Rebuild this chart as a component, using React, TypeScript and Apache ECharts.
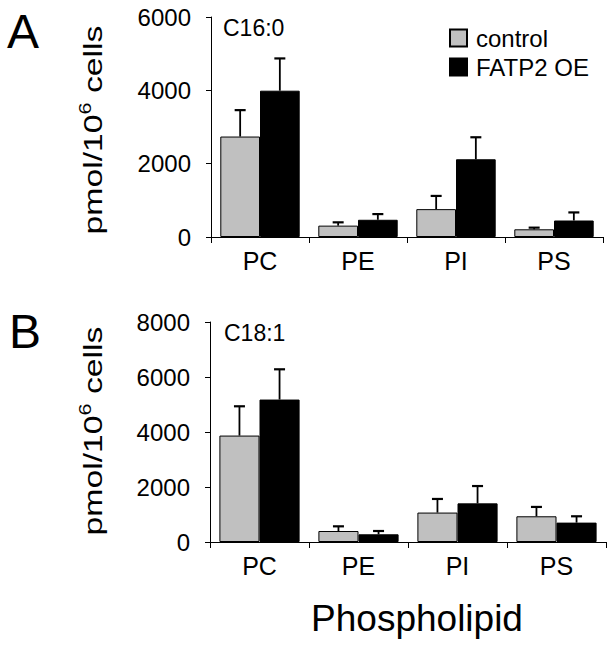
import React, { useEffect, useRef } from "react";
import * as echarts from "echarts";

const categories = ["PC", "PE", "PI", "PS"];
const seriesNames = ["control", "FATP2 OE"];

// Panel A: C16:0
const c16Control = [2740, 310, 760, 210];
const c16ControlErr = [720, 90, 360, 45];
const c16Fatp2 = [3990, 470, 2120, 450];
const c16Fatp2Err = [880, 155, 600, 220];

// Panel B: C18:1
const c18Control = [3870, 400, 1070, 935];
const c18ControlErr = [1065, 170, 495, 340];
const c18Fatp2 = [5180, 280, 1405, 705];
const c18Fatp2Err = [1100, 120, 630, 230];

const yMaxA = 6000;
const yMaxB = 8000;
const yInterval = 2000;

const FONT = "'Liberation Sans', Arial, Helvetica, sans-serif";
const CAT_GAP = 0.19;

function errSeries(name: string, xi: number, vals: number[], errs: number[], sign: number) {
  return {
    type: "custom",
    name,
    xAxisIndex: xi,
    yAxisIndex: xi,
    z: 10,
    silent: true,
    data: vals.map((v, i) => [i, v, errs[i]]),
    encode: { x: 0, y: 1 },
    renderItem: (params: any, api: any) => {
      const i = api.value(0);
      const v = api.value(1);
      const e = api.value(2);
      const band = api.size([1, 0])[0];
      const off = (sign * band * (1 - CAT_GAP)) / 4;
      const base = api.coord([i, v]);
      const top = api.coord([i, v + e]);
      const x = base[0] + off;
      return {
        type: "group",
        children: [
          {
            type: "line",
            shape: { x1: x, y1: base[1], x2: x, y2: top[1] },
            style: { stroke: "#000", lineWidth: 1.8 },
          },
          {
            type: "line",
            shape: { x1: x - 5.5, y1: top[1], x2: x + 5.5, y2: top[1] },
            style: { stroke: "#000", lineWidth: 2.2 },
          },
        ],
      };
    },
  };
}

function barSeries(name: string, xi: number, vals: number[], color: string) {
  return {
    type: "bar",
    name,
    xAxisIndex: xi,
    yAxisIndex: xi,
    data: vals,
    barGap: "0%",
    barCategoryGap: "19%",
    itemStyle: { color, borderColor: "#000", borderWidth: 1 },
  };
}

function xAxis(gi: number) {
  return {
    type: "category",
    gridIndex: gi,
    data: categories,
    axisLine: { lineStyle: { color: "#000", width: 1 } },
    axisTick: { show: true, length: 6, interval: 0, alignWithLabel: false, lineStyle: { color: "#000" } },
    axisLabel: { color: "#000", fontSize: 25, fontFamily: FONT, margin: 11, interval: 0 },
  };
}

function yAxis(gi: number, max: number) {
  return {
    type: "value",
    gridIndex: gi,
    min: 0,
    max,
    interval: yInterval,
    splitLine: { show: false },
    axisLine: { show: true, lineStyle: { color: "#000", width: 1 } },
    axisTick: { show: true, length: 5, lineStyle: { color: "#000" } },
    axisLabel: {
      color: "#000",
      fontSize: 24,
      fontFamily: FONT,
      margin: 20,
      formatter: (v: number) => String(v),
    },
  };
}

function yLabel(cx: number, cy: number) {
  return {
    type: "text",
    x: cx,
    y: cy,
    rotation: Math.PI / 2,
    scaleX: 1.35,
    style: {
      text: "{a|pmol/10}{b|6}{a| cells}",
      align: "center",
      verticalAlign: "middle",
      fill: "#000",
      font: `25px ${FONT}`,
      rich: {
        a: { fontSize: 25, fontFamily: FONT, fill: "#000", lineHeight: 28, verticalAlign: "bottom" },
        b: { fontSize: 16, fontFamily: FONT, fill: "#000", lineHeight: 28, verticalAlign: "top" },
      },
    },
  };
}

function plainText(text: string, x: number, y: number, size: number, align = "left") {
  return {
    type: "text",
    x,
    y,
    style: { text, font: `${size}px ${FONT}`, fill: "#000", align, verticalAlign: "middle" },
  };
}

export default function App() {
  const ref = useRef<HTMLDivElement>(null);
  useEffect(() => {
    if (!ref.current) return;
    const chart = echarts.init(ref.current, undefined, { renderer: "svg" });
    chart.setOption({
      animation: false,
      backgroundColor: "#fff",
      legend: {
        data: seriesNames,
        orient: "vertical",
        left: 449,
        top: 26,
        padding: 0,
        itemWidth: 17,
        itemHeight: 17,
        itemGap: 5,
        icon: "rect",
        textStyle: { fontSize: 24, fontFamily: FONT, color: "#000", lineHeight: 24, padding: [0, 0, 0, 4] },
      },
      grid: [
        { left: 211, top: 17, width: 392, height: 220 },
        { left: 210, top: 322, width: 396, height: 220 },
      ],
      xAxis: [xAxis(0), xAxis(1)],
      yAxis: [yAxis(0, yMaxA), yAxis(1, yMaxB)],
      series: [
        barSeries(seriesNames[0], 0, c16Control, "#c0c0c0"),
        barSeries(seriesNames[1], 0, c16Fatp2, "#000"),
        barSeries(seriesNames[0], 1, c18Control, "#c0c0c0"),
        barSeries(seriesNames[1], 1, c18Fatp2, "#000"),
        errSeries("errA0", 0, c16Control, c16ControlErr, -1),
        errSeries("errA1", 0, c16Fatp2, c16Fatp2Err, 1),
        errSeries("errB0", 1, c18Control, c18ControlErr, -1),
        errSeries("errB1", 1, c18Fatp2, c18Fatp2Err, 1),
      ],
      graphic: [
        plainText("A", 7, 31, 48),
        plainText("B", 9, 331, 48),
        plainText("C16:0", 223, 28, 23),
        plainText("C18:1", 224, 333, 23),
        plainText("Phospholipid", 417, 618, 37, "center"),
        yLabel(92, 130),
        yLabel(92, 431),
      ],
    });
    return () => chart.dispose();
  }, []);
  return <div ref={ref} style={{ width: 615, height: 649, position: "absolute", left: 0, top: 0 }} />;
}
